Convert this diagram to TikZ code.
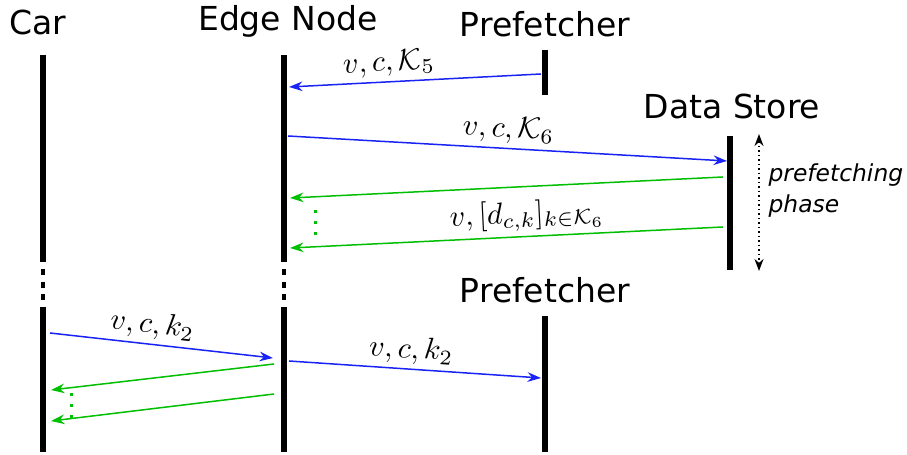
\documentclass[tikz,border=0pt]{standalone}
\usepackage{fontspec}
\setmainfont{DejaVu Sans}
\usetikzlibrary{arrows.meta}
\definecolor{reqblue}{RGB}{25,35,245}
\definecolor{ansgreen}{RGB}{0,190,0}
\begin{document}
\begin{tikzpicture}[x=0.3333pt, y=-0.3333pt,
  lifeline/.style = {line width=2pt},
  gapline/.style = {line width=1.5pt, dash pattern=on 2pt off 2.17pt},
  title/.style = {font=\fontsize{11}{13}\selectfont, anchor=base, inner sep=0pt},
  request/.style = {draw, reqblue, line width=0.5pt, -{Stealth[length=4.5pt, width=3.2pt, inset=1.5pt]}},
  answer/.style = {draw, ansgreen, line width=0.5pt, -{Stealth[length=4.5pt, width=3.2pt, inset=1.5pt]}},
  msg/.style = {sloped, above, inner sep=1.5pt, text=black},
  gapdots/.style = {ansgreen, line width=1pt, dash pattern=on 1pt off 2.67pt}]
\useasboundingbox (0,0) rectangle (907,455);

% participants
\begin{scope}[every node/.style = {title}]
\node (car) at (38,35) {Car};
\node (edge) at (288,31) {Edge Node};
\node (pref) at (545,37) {Prefetcher};
\node (store) at (732,119) {Data Store};
\node (pref2) at (545,303) {Prefetcher};
\end{scope}

% lifelines
\coordinate (car top) at (43,55);
\coordinate (car cut) at (43,262);
\coordinate (car gap) at (43,269);
\coordinate (car gapend) at (43,300);
\coordinate (car resume) at (43,307);
\coordinate (car end) at (43,452);
\coordinate (edge top) at (284,55);
\coordinate (edge cut) at (284,262);
\coordinate (edge gap) at (284,269);
\coordinate (edge gapend) at (284,300);
\coordinate (edge resume) at (284,307);
\coordinate (edge end) at (284,452);
\coordinate (pref top) at (545,50);
\coordinate (pref end) at (545,95);
\coordinate (store top) at (730,136);
\coordinate (store end) at (730,270);
\coordinate (pref2 top) at (545,316);
\coordinate (pref2 end) at (545,452);
\draw[lifeline] (car top) -- (car cut);
\draw[gapline] (car gap) -- (car gapend);
\draw[lifeline] (car resume) -- (car end);
\draw[lifeline] (edge top) -- (edge cut);
\draw[gapline] (edge gap) -- (edge gapend);
\draw[lifeline] (edge resume) -- (edge end);
\draw[lifeline] (pref top) -- (pref end);
\draw[lifeline] (store top) -- (store end);
\draw[lifeline] (pref2 top) -- (pref2 end);

% message end points
\coordinate (m1a) at (541,74);
\coordinate (m1b) at (289,87);
\coordinate (m2a) at (288,136);
\coordinate (m2b) at (727,161);
\coordinate (m3a) at (723,177);
\coordinate (m3b) at (290,198);
\coordinate (m4a) at (723,227);
\coordinate (m4b) at (290,248);
\coordinate (m5a) at (50,333);
\coordinate (m5b) at (273,358);
\coordinate (m6a) at (289,361);
\coordinate (m6b) at (541,378);
\coordinate (m7a) at (274,364);
\coordinate (m7b) at (51,390);
\coordinate (m8a) at (274,394);
\coordinate (m8b) at (51,421);

% messages
\path (m1a) edge[request] node[msg, pos=0.6] {$v,c,\mathcal{K}_5$} (m1b);
\path (m2a) edge[request] node[msg, pos=0.5] {$v,c,\mathcal{K}_6$} (m2b);
\path (m3a) edge[answer] (m3b);
\path (m4a) edge[answer] node[msg, pos=0.45] {$v,[d_{c,k}]_{k\in\mathcal{K}_6}$} (m4b);
\path (m5a) edge[request] node[msg, pos=0.45] {$v,c,k_2$} (m5b);
\path (m6a) edge[request] node[msg, pos=0.48] {$v,c,k_2$} (m6b);
\path (m7a) edge[answer] (m7b);
\path (m8a) edge[answer] (m8b);

% more messages in between
\coordinate (dots1 top) at (315,210);
\coordinate (dots1 end) at (315,240);
\coordinate (dots2 top) at (71,393);
\coordinate (dots2 end) at (71,423);
\draw[gapdots] (dots1 top) -- (dots1 end);
\draw[gapdots] (dots2 top) -- (dots2 end);

% prefetching phase
\coordinate (phase top) at (759,134);
\coordinate (phase end) at (759,271);
\draw[densely dotted, line width=0.5pt, {Stealth[length=4pt, width=3pt, inset=1.3pt]}-{Stealth[length=4pt, width=3pt, inset=1.3pt]}] (phase top) -- (phase end);
\node[anchor=west, align=left, inner sep=0pt, font=\fontsize{7.8}{10.3}\selectfont\itshape] (phase) at (768,191) {prefetching\\phase};
\end{tikzpicture}
\end{document}
